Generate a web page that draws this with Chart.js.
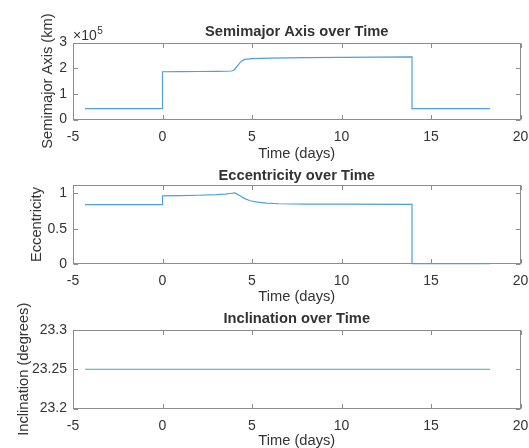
<!DOCTYPE html>
<html>
<head>
<meta charset="utf-8">
<script src="https://cdn.jsdelivr.net/npm/chart.js@4"></script>
<style>
html,body{margin:0;padding:0;background:#fff;}
#wrap{position:relative;width:529px;height:448px;overflow:hidden;background:#fff;}
canvas{position:absolute;left:0;top:0;}
</style>
</head>
<body>
<div id="wrap">
<canvas id="c1" width="529" height="448"></canvas>
<canvas id="c2" width="529" height="448"></canvas>
<canvas id="c3" width="529" height="448"></canvas>
</div>
<script>
// ---- data ----
const timeTicks = [-5, 0, 5, 10, 15, 20];

const semimajorTime = [-4.33, 0, 0, 1, 2, 3, 3.6, 3.85, 4.0, 4.2, 4.4, 4.6, 5, 6, 8, 10, 12, 13.94, 13.94, 18.3];
const semimajorKm   = [42000, 42000, 186000, 186500, 187000, 187500, 188000, 189000, 193000, 210000, 227000, 234000, 237000, 239000, 241000, 242000, 243000, 244000, 42000, 42000];
const semimajorTicks = [0, 100000, 200000, 300000];

const eccTime = [-4.33, 0, 0, 1, 2, 3, 3.5, 3.8, 4.05, 4.3, 4.6, 4.9, 5.3, 5.8, 6.5, 8, 10, 13.94, 13.94, 18.3];
const eccValue = [0.84, 0.84, 0.965, 0.968, 0.973, 0.982, 0.99, 0.998, 1.005, 0.97, 0.925, 0.895, 0.875, 0.862, 0.853, 0.848, 0.846, 0.845, 0.005, 0.005];
const eccTicks = [0, 0.5, 1];

const incTime = [-4.33, 18.3];
const incValue = [23.25, 23.25];
const incTicks = [23.2, 23.25, 23.3];

// ---- styling ----
const FONT = "'Liberation Sans', Arial, sans-serif";
const TXT = '#333333';
const LINE = '#4f9fd8';
const AXC = '#8c8c8c';
const LEFT = 73, RIGHT = 520.5;

const boxPlugin = {
  id: 'matlabBox',
  beforeDatasetsDraw(chart, args, opts) {
    const {ctx, chartArea: a, scales: {x, y}} = chart;
    ctx.save();
    ctx.strokeStyle = AXC;
    ctx.lineWidth = 1;
    const L = Math.round(a.left) + 0.5, R = Math.round(a.right) - 0.5;
    const T = Math.round(a.top) + 0.5, B = Math.round(a.bottom) - 0.5;
    ctx.strokeRect(L, T, R - L, B - T);
    const tl = 4.5;
    ctx.beginPath();
    x.ticks.forEach(t => {
      const px = Math.round(x.getPixelForValue(t.value)) + 0.5;
      ctx.moveTo(px, B); ctx.lineTo(px, B - tl);
      ctx.moveTo(px, T); ctx.lineTo(px, T + tl);
    });
    y.ticks.forEach(t => {
      const py = Math.round(y.getPixelForValue(t.value)) + 0.5;
      ctx.moveTo(L, py); ctx.lineTo(L + tl, py);
      ctx.moveTo(R, py); ctx.lineTo(R - tl, py);
    });
    ctx.stroke();
    if (opts && opts.exponent) {
      ctx.fillStyle = TXT;
      ctx.textBaseline = 'alphabetic';
      ctx.textAlign = 'left';
      ctx.font = '14px ' + FONT;
      const base = '\u00d710';
      ctx.fillText(base, a.left, a.top - 2.5);
      const w = ctx.measureText(base).width;
      ctx.font = '10px ' + FONT;
      ctx.fillText(opts.exponent, a.left + w + 0.5, a.top - 8.5);
    }
    ctx.restore();
  }
};

function makeChart(id, cfg) {
  const xs = cfg.time, ys = cfg.values;
  const pts = xs.map((t, i) => ({x: t, y: ys[i]}));
  return new Chart(document.getElementById(id), {
    type: 'line',
    data: {datasets: [{data: pts, borderColor: LINE, borderWidth: 1.2, pointRadius: 0, tension: 0, fill: false, clip: 4}]},
    plugins: [boxPlugin],
    options: {
      responsive: false,
      animation: false,
      devicePixelRatio: 1,
      layout: {padding: {left: 0, right: 529 - RIGHT, top: 0, bottom: cfg.layoutBottom}},
      plugins: {
        legend: {display: false},
        tooltip: {enabled: false},
        title: {display: true, fullSize: false, text: cfg.title, color: TXT,
                font: {family: FONT, size: 14.7, weight: 'bold'},
                padding: {top: cfg.titleTop, bottom: cfg.titleBottom}},
        matlabBox: {exponent: cfg.exponent || null}
      },
      scales: {
        x: {
          type: 'linear', min: -5, max: 20,
          afterBuildTicks: s => { s.ticks = timeTicks.map(v => ({value: v})); },
          afterFit: s => { s.height = cfg.xHeight; s.paddingLeft = 0; s.paddingRight = 0; },
          grid: {display: false, drawTicks: false}, border: {display: false},
          ticks: {color: TXT, font: {family: FONT, size: 14}, padding: 9, maxRotation: 0,
                  callback: v => String(v)},
          title: {display: true, text: 'Time (days)', color: TXT,
                  font: {family: FONT, size: 14.7}, padding: {top: 0, bottom: cfg.xTitleBottom}}
        },
        y: {
          type: 'linear', min: cfg.yMin, max: cfg.yMax,
          afterBuildTicks: s => { s.ticks = cfg.ticks.map(v => ({value: v})); },
          afterFit: s => { s.width = LEFT; s.paddingTop = 0; s.paddingBottom = 0; },
          grid: {display: false, drawTicks: false}, border: {display: false},
          ticks: {color: TXT, font: {family: FONT, size: 14}, padding: 6,
                  callback: cfg.tickFmt},
          title: {display: true, text: cfg.yTitle, color: TXT,
                  font: {family: FONT, size: 14.7}, padding: {top: cfg.yTitlePad, bottom: 0}}
        }
      }
    }
  });
}

// Plot 1: chartArea top 42.5, bottom 119.5
makeChart('c1', {
  time: semimajorTime, values: semimajorKm, ticks: semimajorTicks,
  yMin: 0, yMax: 300000, tickFmt: v => String(Math.round(v / 1e5)),
  title: 'Semimajor Axis over Time', titleTop: 23.5, titleBottom: 42.5 - 23.5 - 17.64,
  yTitle: 'Semimajor Axis (km)', yTitlePad: 39.5,
  xHeight: 43.3, layoutBottom: 448 - 162.8, xTitleBottom: 0,
  exponent: '5'
});

// Plot 2: chartArea top 185, bottom 264
makeChart('c2', {
  time: eccTime, values: eccValue, ticks: eccTicks,
  yMin: 0, yMax: 1.118, tickFmt: v => String(v),
  title: 'Eccentricity over Time', titleTop: 167.4, titleBottom: 185 - 167.4 - 17.64,
  yTitle: 'Eccentricity', yTitlePad: 27.8,
  xHeight: 41.8, layoutBottom: 448 - 305.8, xTitleBottom: 0
});

// Plot 3: chartArea top 330, bottom 408.5
makeChart('c3', {
  time: incTime, values: incValue, ticks: incTicks,
  yMin: 23.2, yMax: 23.3, tickFmt: v => String(+v.toFixed(2)),
  title: 'Inclination over Time', titleTop: 310.6, titleBottom: 330 - 310.6 - 17.64,
  yTitle: 'Inclination (degrees)', yTitlePad: 14.8,
  xHeight: 448 - 408.5, layoutBottom: 0, xTitleBottom: -1.8
});
</script>
</body>
</html>
